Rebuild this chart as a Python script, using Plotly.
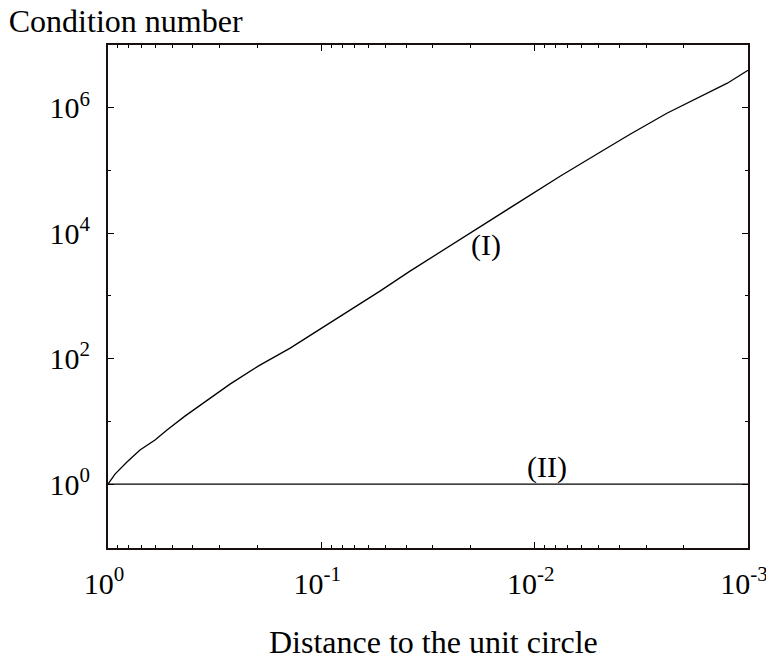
import plotly.graph_objects as go

# --- data ---
# curve (I): distance to unit circle vs condition number
dist_I = [1.0, 0.927, 0.815, 0.708, 0.602, 0.529, 0.436, 0.343, 0.268, 0.194,
          0.140, 0.1014, 0.0734, 0.0531, 0.0384, 0.0278, 0.0201, 0.01454,
          0.01051, 0.0076, 0.00494, 0.00357, 0.0024, 0.00168, 0.00125, 0.001]
cond_I = [1.0, 1.44, 2.24, 3.48, 5.02, 7.26, 12.1, 21.8, 39.2, 78.8,
          147, 295, 593, 1190, 2480, 4980, 1.0e4, 2.01e4,
          4.03e4, 8.1e4, 1.95e5, 3.78e5, 8.17e5, 1.47e6, 2.46e6, 3.96e6]

# curve (II): constant condition number
dist_II = [1.0, 0.001]
cond_II = [1.0, 1.0]

x_major = [1, 0.1, 0.01, 0.001]
x_labels = ["10<sup>0</sup>", "10<sup>-1</sup>", "10<sup>-2</sup>", "10<sup>-3</sup>"]
x_minor = [m * d for d in [0.1, 0.01, 0.001] for m in range(2, 10)]

y_major = [1, 1e2, 1e4, 1e6]
y_labels = ["10<sup>0</sup>", "10<sup>2</sup>", "10<sup>4</sup>", "10<sup>6</sup>"]
y_minor = [10, 1e3, 1e5]

FONT = "Liberation Serif"

fig = go.Figure()
fig.add_trace(go.Scatter(x=dist_I, y=cond_I, mode="lines",
                         line=dict(color="black", width=1.3), showlegend=False))
fig.add_trace(go.Scatter(x=dist_II, y=cond_II, mode="lines",
                         line=dict(color="black", width=1.3), showlegend=False))

axis_common = dict(showgrid=False, zeroline=False, showline=True, linecolor="#1a0f0f",
                   linewidth=2, mirror="ticks", ticks="inside", tickcolor="black",
                   ticklen=6, tickwidth=1.3, automargin=False, ticklabeloverflow="allow",
                   tickfont=dict(family=FONT, size=30, color="black"))

# reversed axis: a positive shift moves the labels to the left
fig.update_xaxes(type="log", range=[0, -3], tickmode="array", tickvals=x_major,
                 ticktext=x_labels, ticklabelstandoff=8, ticklabelshift=4,
                 minor=dict(tickmode="array", tickvals=x_minor, ticks="inside",
                            ticklen=3, tickwidth=1.2, tickcolor="black"),
                 **axis_common)
fig.update_yaxes(type="log", range=[-1.02, 7.0], tickmode="array", tickvals=y_major,
                 ticktext=y_labels, ticklabelstandoff=10,
                 minor=dict(tickmode="array", tickvals=y_minor, ticks="inside",
                            ticklen=3, tickwidth=1.2, tickcolor="black"),
                 **axis_common)

fig.add_annotation(x=-1.772, y=3.81, text="(I)", showarrow=False,
                   font=dict(family=FONT, size=30, color="black"))
fig.add_annotation(x=-2.058, y=0, yanchor="bottom", text="(II)", showarrow=False,
                   yshift=-2, font=dict(family=FONT, size=30, color="black"))
fig.add_annotation(xref="paper", yref="paper", x=0.509, y=-0.226, text="Distance to the unit circle",
                   showarrow=False, font=dict(family=FONT, size=32, color="black"))

# the page body adds an 8px offset, so the figure is sized 8px smaller
fig.update_layout(
    width=766, height=647,
    margin=dict(l=100, r=26, t=37, b=107),
    paper_bgcolor="white", plot_bgcolor="white",
    title=dict(text="Condition number", x=0.001, xanchor="left", xref="container",
               y=1, yanchor="top", yref="container", pad=dict(t=2),
               font=dict(family=FONT, size=32, color="black")),
)

fig.write_html("out.html")
